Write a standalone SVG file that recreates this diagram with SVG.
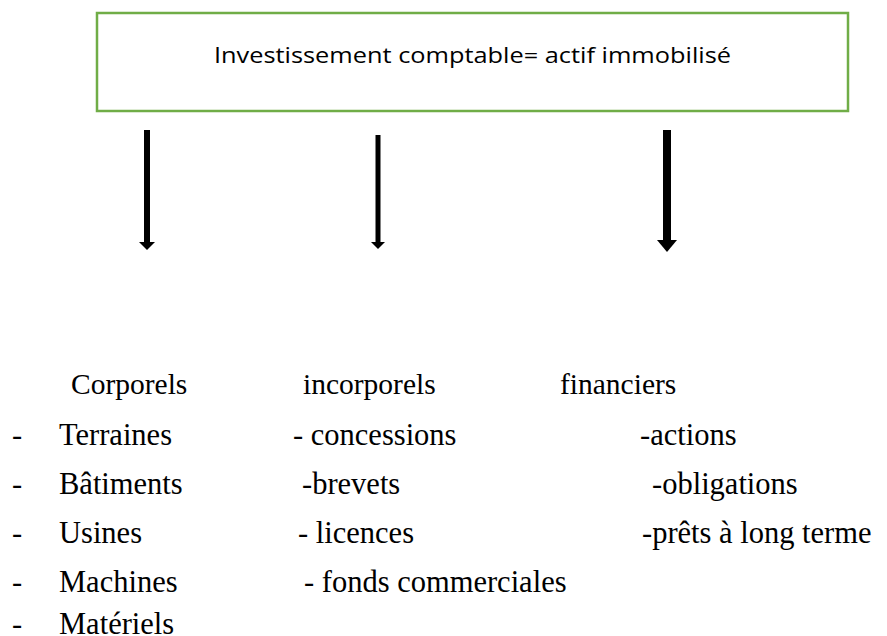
<svg xmlns="http://www.w3.org/2000/svg" width="887" height="636" viewBox="0 0 887 636">
<style>
.box{fill:#fff;stroke:#70AD47;stroke-width:2.5}
.title{font-family:"Open Sans","Liberation Sans",sans-serif;font-size:22px;fill:#000}
.h{font-family:"Liberation Serif","Times New Roman",serif;font-size:29.5px;fill:#000}
.t{font-family:"Liberation Serif","Times New Roman",serif;font-size:30.5px;fill:#000}
.shaft{stroke:#000;fill:none}
.head{fill:#000}
</style>
<rect width="887" height="636" fill="#fff"/>
<g id="root">
<rect class="box" x="97" y="13" width="751" height="98"/>
<text class="title" x="214" y="63" textLength="517" lengthAdjust="spacingAndGlyphs">Investissement comptable= actif immobilisé</text>
</g>
<g id="connectors">
<line class="shaft" x1="147" y1="130" x2="147" y2="243" stroke-width="6"/>
<polygon class="head" points="139,242 155,242 147,250"/>
<line class="shaft" x1="378" y1="135" x2="378" y2="243" stroke-width="5"/>
<polygon class="head" points="371,242 385,242 378,249"/>
<line class="shaft" x1="667" y1="130" x2="667" y2="241" stroke-width="8"/>
<polygon class="head" points="657,240 677,240 667,252"/>
</g>
<g id="corporels">
<text class="h" x="71" y="394">Corporels</text>
<text class="t" x="12" y="445">-</text><text class="t" x="59" y="445">Terraines</text>
<text class="t" x="12" y="494">-</text><text class="t" x="59" y="494">Bâtiments</text>
<text class="t" x="12" y="543">-</text><text class="t" x="59" y="543">Usines</text>
<text class="t" x="12" y="592">-</text><text class="t" x="59" y="592">Machines</text>
<text class="t" x="12" y="634">-</text><text class="t" x="59" y="634">Matériels</text>
</g>
<g id="incorporels">
<text class="h" x="303" y="394">incorporels</text>
<text class="t" x="293" y="445">- concessions</text>
<text class="t" x="302" y="494">-brevets</text>
<text class="t" x="298" y="543">- licences</text>
<text class="t" x="304" y="592">- fonds commerciales</text>
</g>
<g id="financiers">
<text class="h" x="560" y="394">financiers</text>
<text class="t" x="640" y="445">-actions</text>
<text class="t" x="652" y="494">-obligations</text>
<text class="t" x="642" y="543">-prêts à long terme</text>
</g>
</svg>
